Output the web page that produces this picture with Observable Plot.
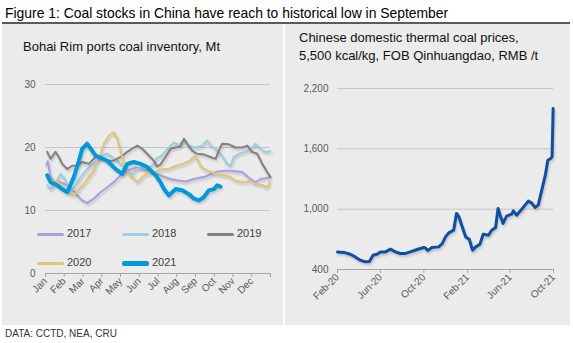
<!DOCTYPE html>
<html><head><meta charset="utf-8">
<script src="https://cdn.jsdelivr.net/npm/d3@7"></script>
<script src="https://cdn.jsdelivr.net/npm/@observablehq/plot@0.6"></script>
<style>
body{margin:0;width:573px;height:343px;background:#fff;font-family:"Liberation Sans",Arial,sans-serif;position:relative;overflow:hidden}
#title{position:absolute;left:5px;top:5px;font-size:13.9px;line-height:16px;color:#000;white-space:nowrap}
#rule{position:absolute;left:2px;top:22px;width:568px;height:2px;background:#5a5a5a}
#panel{position:absolute;left:2px;top:24px;width:568px;height:301px;background:#ebebeb}
#divider{position:absolute;left:283px;top:24px;width:2px;height:301px;background:#fff}
.sub{position:absolute;font-size:13px;color:#111;line-height:18px;white-space:nowrap}
#caption{position:absolute;left:5px;top:328px;font-size:10px;color:#333}
.chart{position:absolute;top:60px}
.lg{position:absolute;font-size:11px;color:#404040;line-height:12px;white-space:nowrap}
.sw{display:inline-block;width:27px;vertical-align:middle;margin-right:3px;border-radius:2px}
</style></head>
<body>
<div id="title">Figure 1: Coal stocks in China have reach to historical low in September</div>
<div id="rule"></div>
<div id="panel"></div>
<div id="divider"></div>
<div class="sub" style="left:23px;top:38px">Bohai Rim ports coal inventory, Mt</div>
<div class="sub" style="left:299px;top:29px">Chinese domestic thermal coal prices,<br>5,500 kcal/kg, FOB Qinhuangdao, RMB /t</div>
<div id="left" class="chart" style="left:0px"></div>
<div id="right" class="chart" style="left:285px"></div>
<div id="legend"></div>
<div id="caption">DATA: CCTD, NEA, CRU</div>
<script>
// ---- Left panel: Bohai Rim ports coal inventory (Mt), x = month of year (0 = 1 Jan, 12 = 31 Dec)
const monthLabels = ["Jan","Feb","Mar","Apr","May","Jun","Jul","Aug","Sep","Oct","Nov","Dec"];
const years = ["2017","2018","2019","2020","2021"];
const inv2017 = [[0.05,17.2],[0.12,17.8],[0.27,15.3],[0.53,14.5],[0.8,14.5],[1.16,14.0],[1.42,13.4],[1.69,12.4],[1.96,11.6],[2.22,11.2],[2.58,11.9],[2.93,12.9],[3.29,13.7],[3.64,14.5],[4.0,15.6],[4.36,16.3],[4.8,16.8],[5.24,16.6],[5.6,16.3],[5.96,15.8],[6.29,15.4],[6.67,15.0],[7.02,14.8],[7.47,14.6],[7.89,15.0],[8.53,15.4],[9.16,16.2],[9.6,16.3],[9.87,16.3],[10.49,16.1],[10.93,15.0],[11.2,14.5],[11.47,15.0],[11.91,15.2]];
const inv2018 = [[0.09,14.0],[0.27,13.4],[0.62,14.8],[0.8,15.8],[0.98,15.2],[1.16,14.2],[1.42,13.2],[1.6,14.0],[1.87,15.3],[2.13,16.3],[2.4,17.1],[2.76,17.9],[3.02,18.7],[3.29,19.0],[3.56,18.5],[3.8,18.0],[4.09,17.1],[4.36,16.6],[4.6,15.6],[4.8,16.5],[5.07,16.8],[5.42,16.6],[5.78,17.4],[5.95,18.4],[6.13,18.6],[6.22,18.8],[6.58,20.0],[6.84,20.8],[7.11,20.4],[7.38,21.1],[7.64,20.3],[8.0,20.0],[8.36,20.3],[8.62,21.1],[8.8,20.4],[9.07,19.8],[9.42,18.7],[9.69,17.4],[9.87,17.1],[10.04,18.5],[10.31,19.0],[10.67,19.3],[11.02,20.0],[11.2,20.6],[11.47,19.8],[11.73,19.3],[12.0,19.4]];
const inv2019 = [[0.09,19.3],[0.27,18.2],[0.53,19.3],[0.71,18.5],[0.89,17.4],[1.16,16.6],[1.42,17.1],[1.69,17.1],[1.96,17.7],[2.31,17.4],[2.67,18.5],[2.93,18.5],[3.29,17.9],[3.64,17.9],[4.0,18.5],[4.36,19.3],[4.62,19.8],[4.89,20.3],[5.16,19.8],[5.42,19.0],[5.78,17.9],[5.95,17.0],[6.13,17.3],[6.4,18.5],[6.67,19.8],[6.93,20.0],[7.2,20.2],[7.38,21.4],[7.56,20.6],[7.82,19.5],[8.09,19.0],[8.44,18.9],[8.8,18.5],[9.07,18.2],[9.24,19.5],[9.42,20.6],[9.78,20.5],[10.13,20.0],[10.5,20.0],[10.76,20.3],[11.02,19.3],[11.29,19.0],[11.56,17.4],[11.82,16.1],[12.0,15.3]];
const inv2020 = [[0.09,15.6],[0.36,14.8],[0.62,14.6],[0.98,13.7],[1.24,12.9],[1.42,12.4],[1.69,12.9],[1.87,13.7],[2.13,14.5],[2.31,15.4],[2.58,16.3],[2.76,17.9],[2.93,19.0],[3.11,20.6],[3.38,21.9],[3.64,22.4],[3.82,21.5],[4.0,19.5],[4.18,17.4],[4.36,16.1],[4.62,15.3],[4.89,14.5],[5.07,15.0],[5.33,15.8],[5.69,16.1],[6.04,16.3],[6.27,16.6],[6.58,16.6],[6.98,17.1],[7.33,17.4],[7.69,17.9],[7.96,18.7],[8.13,18.0],[8.31,16.9],[8.67,16.3],[9.11,15.8],[9.47,15.6],[9.82,15.4],[10.09,14.8],[10.36,14.6],[10.62,14.5],[10.9,14.7],[11.24,14.2],[11.6,14.0],[11.82,13.7],[11.97,14.5]];
const inv2021 = [[0.09,15.6],[0.27,14.5],[0.62,14.0],[0.89,13.4],[1.16,12.9],[1.51,15.3],[1.78,17.9],[1.96,19.8],[2.22,20.6],[2.67,18.7],[3.29,17.9],[3.73,16.6],[4.09,15.8],[4.36,17.4],[4.71,17.7],[5.07,17.4],[5.42,16.9],[5.87,15.6],[6.13,14.5],[6.3,13.5],[6.58,12.4],[6.93,13.4],[7.29,13.2],[7.64,12.6],[7.91,11.9],[8.18,11.6],[8.44,12.1],[8.71,13.2],[8.98,13.4],[9.16,14.0],[9.33,13.8]];
const yearColors = ["#ab9ee0","#9acfe0","#808080","#dfc47a","#0099dc"];
const yearWidths = [2,2,2,2,4];
const invTicks = [0,10,20,30];

// ---- Right panel: domestic thermal coal price (RMB/t)
const priceDates = ["2020-02-01","2020-02-19","2020-03-08","2020-03-22","2020-04-05","2020-04-19","2020-05-01","2020-05-11","2020-05-22","2020-06-01","2020-06-15","2020-06-29","2020-07-13","2020-07-27","2020-08-10","2020-08-24","2020-09-12","2020-10-01","2020-10-06","2020-10-12","2020-10-24","2020-11-12","2020-11-22","2020-12-01","2020-12-10","2020-12-24","2021-01-01","2021-01-08","2021-01-17","2021-01-27","2021-02-06","2021-02-15","2021-02-24","2021-03-08","2021-03-17","2021-04-01","2021-04-10","2021-04-21","2021-04-28","2021-05-04","2021-05-12","2021-05-22","2021-06-05","2021-06-10","2021-06-19","2021-07-03","2021-07-22","2021-08-01","2021-08-10","2021-08-19","2021-08-29","2021-09-08","2021-09-15","2021-09-23","2021-09-27","2021-09-30"];
const priceValues = [575,570,552,525,493,476,480,542,552,575,575,602,575,559,560,575,599,619,612,588,619,625,659,724,764,791,957,923,824,724,701,592,625,652,751,741,791,818,1007,940,858,930,950,983,940,997,1080,1060,1017,1040,1189,1338,1487,1504,1520,2002];
const priceTickDates = ["2020-02-01","2020-06-01","2020-10-01","2021-02-01","2021-06-01","2021-10-01"];
const priceTicks = [400,1000,1600,2200];

const baseStyle = {background:"transparent", fontFamily:"'Liberation Sans', Arial, sans-serif", fontSize:"10px", color:"#595959", overflow:"visible"};

const invSeries = years.map((y,i) => ({year:y, data:[inv2017,inv2018,inv2019,inv2020,inv2021][i], color:yearColors[i], width:yearWidths[i]}));

const left = Plot.plot({
  width:285, height:260, marginLeft:45, marginRight:15, marginTop:24, marginBottom:47,
  style: baseStyle,
  x:{domain:[0,12]},
  y:{domain:[0,30]},
  marks:[
    Plot.ruleY(invTicks.filter(t => t>0), {stroke:"#c6c6c6", strokeWidth:1}),
    Plot.axisY({ticks:invTicks, tickSize:0, tickPadding:10, label:null, fill:"#595959"}),
    Plot.axisX({ticks:d3.range(13), tickFormat:i => monthLabels[i] ?? "", tickRotate:-45, tickSize:4, tickPadding:2, label:null, stroke:"#a6a6a6", fill:"#595959"}),
    Plot.ruleY([0], {stroke:"#a6a6a6", strokeWidth:1}),
    ...invSeries.map(s => Plot.line(s.data, {x:d => d[0], y:d => d[1], stroke:s.color, strokeWidth:s.width, strokeLinejoin:"round", strokeLinecap:"round"}))
  ]
});
document.getElementById("left").append(left);

const right = Plot.plot({
  width:285, height:260, marginLeft:52, marginRight:17, marginTop:28, marginBottom:51,
  style: baseStyle,
  x:{type:"utc", domain:[new Date(priceTickDates[0]), new Date(priceTickDates[priceTickDates.length-1])]},
  y:{domain:[400,2200]},
  marks:[
    Plot.ruleY(priceTicks.filter(t => t>400), {stroke:"#c6c6c6", strokeWidth:1}),
    Plot.axisY({ticks:priceTicks, tickFormat:d3.format(","), tickSize:0, tickPadding:9, label:null, fill:"#595959"}),
    Plot.axisX({ticks:priceTickDates.map(d => new Date(d)), tickFormat:d3.utcFormat("%b-%y"), tickRotate:-45, tickSize:4, tickPadding:2, label:null, stroke:"#a6a6a6", fill:"#595959"}),
    Plot.ruleY([400], {stroke:"#a6a6a6", strokeWidth:1}),
    Plot.line(priceDates.map((d,i) => ({date:new Date(d), value:priceValues[i]})), {x:"date", y:"value", stroke:"#0f4fa3", strokeWidth:3, strokeLinejoin:"round", strokeLinecap:"round"})
  ]
});
document.getElementById("right").append(right);

// subtle shadow like the original Excel lines
d3.selectAll("#left svg g[aria-label='line'], #right svg g[aria-label='line']").style("filter","drop-shadow(1px 2px 1px rgba(0,0,0,0.18))");

// ---- Legend (HTML)
const legendPos = [[37,227],[122,227],[207,227],[37,256],[122,256]];
const lg = document.getElementById("legend");
years.forEach((y,i) => {
  const d = document.createElement("div");
  d.className = "lg";
  d.style.left = legendPos[i][0] + "px";
  d.style.top = legendPos[i][1] + "px";
  d.innerHTML = `<span class="sw" style="height:${yearWidths[i]+1}px;background:${yearColors[i]}"></span>${y}`;
  lg.append(d);
});
</script>
</body></html>
